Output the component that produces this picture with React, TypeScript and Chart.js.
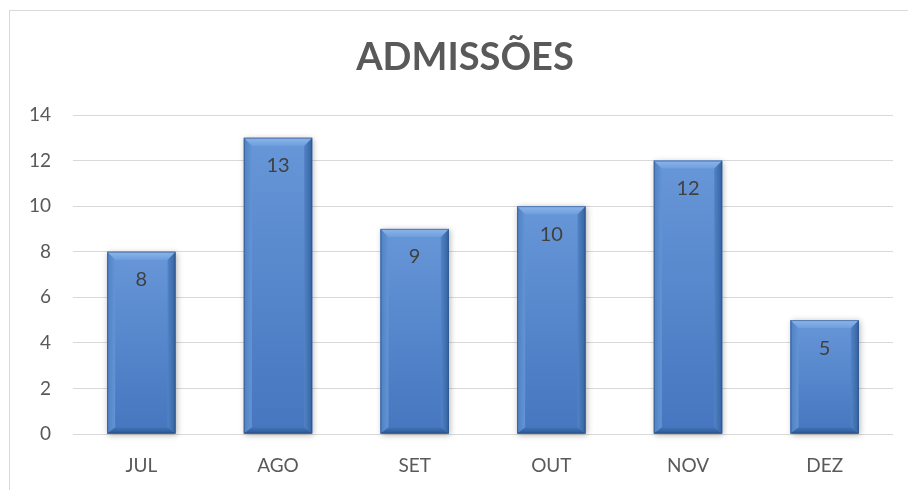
import React, { useEffect, useRef } from "react";
import { Chart, registerables } from "chart.js";

Chart.register(...registerables);

const chartTitle = "ADMISSÕES";
const categories = ["JUL", "AGO", "SET", "OUT", "NOV", "DEZ"];
const admissoes = [8, 13, 9, 10, 12, 5];
const yTickValues = [0, 2, 4, 6, 8, 10, 12, 14];

const FONT = "Lato, 'Open Sans', sans-serif";

const framePlugin = {
  id: "frame",
  beforeDraw(chart: any) {
    const ctx = chart.ctx;
    ctx.save();
    ctx.fillStyle = "#ffffff";
    ctx.fillRect(0, 0, chart.width, chart.height);
    ctx.strokeStyle = "#d9d9d9";
    ctx.lineWidth = 1;
    ctx.strokeRect(9.5, 10.5, chart.width + 20, chart.height + 20);
    ctx.fillStyle = "#595959";
    ctx.font = `bold 38px ${FONT}`;
    ctx.textAlign = "center";
    ctx.textBaseline = "middle";
    ctx.fillText(chartTitle, 465, 58);
    ctx.restore();
  },
};

function poly(ctx: any, pts: number[][], fill: any) {
  ctx.fillStyle = fill;
  ctx.beginPath();
  ctx.moveTo(pts[0][0], pts[0][1]);
  for (let k = 1; k < pts.length; k++) ctx.lineTo(pts[k][0], pts[k][1]);
  ctx.closePath();
  ctx.fill();
}

const bevelPlugin = {
  id: "bevel",
  beforeDatasetsDraw(chart: any) {
    const ctx = chart.ctx;
    const meta = chart.getDatasetMeta(0);
    ctx.save();
    meta.data.forEach((el: any) => {
      const { x, y, width, base } = el.getProps(["x", "y", "width", "base"], true);
      ctx.shadowColor = "rgba(0,0,0,0.3)";
      ctx.shadowBlur = 6;
      ctx.shadowOffsetX = 1;
      ctx.shadowOffsetY = 1;
      ctx.fillStyle = "#4a7cbf";
      ctx.fillRect(x - width / 2, y, width, base - y);
    });
    ctx.restore();
  },
  afterDatasetsDraw(chart: any) {
    const ctx = chart.ctx;
    const meta = chart.getDatasetMeta(0);
    ctx.save();
    meta.data.forEach((el: any, i: number) => {
      const { x, y, width, base } = el.getProps(["x", "y", "width", "base"], true);
      const l = x - width / 2;
      const r = x + width / 2;
      const t = y;
      const b = base;
      const bv = 8;
      const bb = 6;
      // face gradient
      const g = ctx.createLinearGradient(0, t, 0, b);
      g.addColorStop(0, "#6797d8");
      g.addColorStop(1, "#4576bf");
      ctx.fillStyle = g;
      ctx.fillRect(l, t, width, b - t);
      // left bevel
      const gl = ctx.createLinearGradient(l, 0, l + bv, 0);
      gl.addColorStop(0, "#4f80c2");
      gl.addColorStop(1, "#6394d5");
      poly(ctx, [[l, t], [l + bv, t + bv], [l + bv, b - bb], [l, b]], gl);
      // right bevel
      const gr = ctx.createLinearGradient(r - bv, 0, r, 0);
      gr.addColorStop(0, "#5283c6");
      gr.addColorStop(1, "#35639f");
      poly(ctx, [[r, t], [r - bv, t + bv], [r - bv, b - bb], [r, b]], gr);
      // top bevel
      const gt = ctx.createLinearGradient(0, t, 0, t + bv);
      gt.addColorStop(0, "#8db5ea");
      gt.addColorStop(1, "#6e9fdd");
      poly(ctx, [[l, t], [r, t], [r - bv, t + bv], [l + bv, t + bv]], gt);
      // bottom bevel
      const gb = ctx.createLinearGradient(0, b - bb, 0, b);
      gb.addColorStop(0, "#4273b9");
      gb.addColorStop(1, "#2d5793");
      poly(ctx, [[l, b], [l + bv, b - bb], [r - bv, b - bb], [r, b]], gb);
      // edge
      ctx.strokeStyle = "rgba(40,75,125,0.55)";
      ctx.lineWidth = 1;
      ctx.strokeRect(l + 0.5, t + 0.5, width - 1, b - t - 1);
      // label
      ctx.fillStyle = "#404040";
      ctx.font = `20px ${FONT}`;
      ctx.textAlign = "center";
      ctx.textBaseline = "middle";
      ctx.fillText(String(admissoes[i]), x, t + 28);
    });
    ctx.restore();
  },
};

export default function App() {
  const ref = useRef<HTMLCanvasElement | null>(null);
  useEffect(() => {
    if (!ref.current) return;
    const chart = new Chart(ref.current, {
      type: "bar",
      data: {
        labels: categories,
        datasets: [
          {
            label: chartTitle,
            data: admissoes,
            backgroundColor: "rgba(0,0,0,0)",
            borderWidth: 0,
            categoryPercentage: 1,
            barPercentage: 0.5,
          },
        ],
      },
      options: {
        responsive: false,
        animation: false,
        layout: { padding: { top: 115, right: 15, left: 0, bottom: 0 } },
        plugins: {
          legend: { display: false },
          title: { display: false },
          tooltip: { enabled: false },
        },
        scales: {
          x: {
            grid: { display: false, drawTicks: false },
            border: { display: false },
            ticks: { color: "#595959", font: { family: FONT, size: 19 }, padding: 20 },
            afterFit(scale: any) {
              scale.height = 56;
            },
          },
          y: {
            min: 0,
            max: 14,
            afterBuildTicks(scale: any) {
              scale.ticks = yTickValues.map((v) => ({ value: v }));
            },
            grid: { color: "#d9d9d9", lineWidth: 1, drawTicks: false },
            border: { display: false },
            ticks: { color: "#595959", font: { family: FONT, size: 19 }, padding: 22 },
            afterFit(scale: any) {
              scale.width = 73;
            },
          },
        },
      },
      plugins: [framePlugin, bevelPlugin],
    });
    return () => chart.destroy();
  }, []);
  return (
    <div style={{ position: "fixed", left: 0, top: 0, width: 908, height: 490, overflow: "hidden", background: "#fff" }}>
      <canvas ref={ref} width={908} height={490} style={{ display: "block" }} />
    </div>
  );
}
